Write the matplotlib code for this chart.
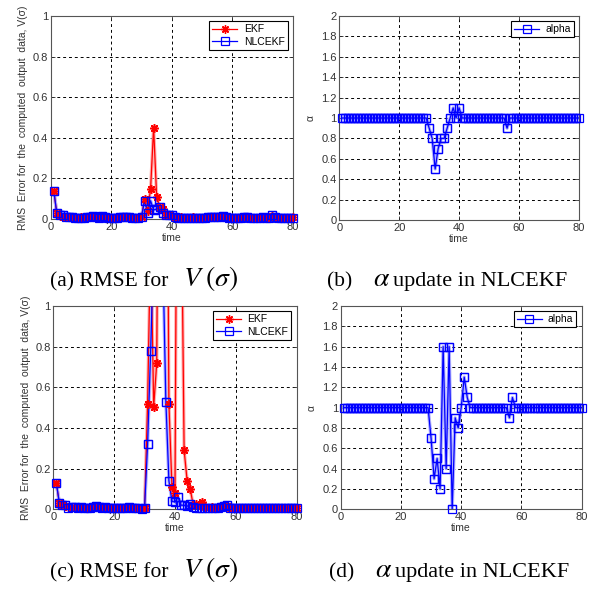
import matplotlib
matplotlib.use("Agg")
import numpy as np
import matplotlib.pyplot as plt

plt.rcParams["font.family"] = ["Liberation Sans", "DejaVu Sans"]
plt.rcParams["mathtext.fontset"] = "stix"

time = np.arange(1, 81)

# RMSE of V(sigma), first run
ekf_a = [
    0.14, 0.03, 0.015, 0.012, 0.010, 0.008, 0.010, 0.006, 0.005, 0.008,
    0.006, 0.010, 0.008, 0.012, 0.010, 0.006, 0.012, 0.008, 0.005, 0.006,
    0.004, 0.008, 0.010, 0.012, 0.008, 0.010, 0.005, 0.004, 0.006, 0.010,
    0.10, 0.04, 0.15, 0.45, 0.11, 0.06, 0.05, 0.02, 0.02, 0.015,
    0.010, 0.006, 0.008, 0.005, 0.006, 0.004, 0.008, 0.005, 0.006, 0.004,
    0.008, 0.010, 0.012, 0.008, 0.010, 0.015, 0.012, 0.006, 0.004, 0.005,
    0.004, 0.006, 0.008, 0.010, 0.008, 0.006, 0.005, 0.004, 0.006, 0.008,
    0.006, 0.010, 0.015, 0.010, 0.008, 0.005, 0.006, 0.004, 0.006, 0.008,
]
nlc_a = [
    0.14, 0.03, 0.02, 0.02, 0.012, 0.010, 0.008, 0.006, 0.005, 0.004,
    0.006, 0.008, 0.010, 0.015, 0.008, 0.006, 0.015, 0.008, 0.004, 0.005,
    0.005, 0.006, 0.010, 0.010, 0.012, 0.008, 0.004, 0.003, 0.005, 0.012,
    0.09, 0.03, 0.09, 0.045, 0.05, 0.06, 0.03, 0.02, 0.02, 0.018,
    0.008, 0.005, 0.005, 0.006, 0.004, 0.005, 0.004, 0.006, 0.005, 0.004,
    0.006, 0.008, 0.012, 0.010, 0.008, 0.012, 0.015, 0.008, 0.004, 0.005,
    0.003, 0.004, 0.006, 0.012, 0.010, 0.006, 0.005, 0.006, 0.005, 0.008,
    0.006, 0.006, 0.018, 0.010, 0.006, 0.005, 0.005, 0.004, 0.005, 0.006,
]
alpha_b = [
    1.0, 1.0, 1.0, 1.0, 1.0, 1.0, 1.0, 1.0, 1.0, 1.0,
    1.0, 1.0, 1.0, 1.0, 1.0, 1.0, 1.0, 1.0, 1.0, 1.0,
    1.0, 1.0, 1.0, 1.0, 1.0, 1.0, 1.0, 1.0, 1.0, 0.9,
    0.8, 0.5, 0.7, 0.8, 0.8, 0.9, 1.0, 1.1, 1.0, 1.1,
    1.0, 1.0, 1.0, 1.0, 1.0, 1.0, 1.0, 1.0, 1.0, 1.0,
    1.0, 1.0, 1.0, 1.0, 1.0, 0.9, 1.0, 1.0, 1.0, 1.0,
    1.0, 1.0, 1.0, 1.0, 1.0, 1.0, 1.0, 1.0, 1.0, 1.0,
    1.0, 1.0, 1.0, 1.0, 1.0, 1.0, 1.0, 1.0, 1.0, 1.0,
]

# second run (larger disturbance)
ekf_c = [
    0.13, 0.03, 0.02, 0.015, 0.010, 0.012, 0.008, 0.010, 0.006, 0.005,
    0.008, 0.006, 0.010, 0.012, 0.008, 0.010, 0.006, 0.008, 0.005, 0.006,
    0.004, 0.006, 0.008, 0.006, 0.010, 0.008, 0.006, 0.005, 0.004, 0.006,
    0.52, 1.35, 0.505, 0.72, 3.0, 3.5, 3.0, 0.52, 0.11, 0.08,
    3.0, 1.7, 0.29, 0.14, 0.10, 0.02, 0.025, 0.02, 0.035, 0.012,
    0.008, 0.010, 0.006, 0.008, 0.012, 0.020, 0.015, 0.008, 0.006, 0.005,
    0.008, 0.006, 0.005, 0.008, 0.006, 0.004, 0.006, 0.008, 0.005, 0.006,
    0.008, 0.006, 0.005, 0.004, 0.006, 0.008, 0.006, 0.005, 0.004, 0.008,
]
nlc_c = [
    0.13, 0.03, 0.02, 0.02, 0.008, 0.010, 0.012, 0.008, 0.010, 0.006,
    0.005, 0.008, 0.010, 0.015, 0.010, 0.008, 0.012, 0.006, 0.005, 0.004,
    0.004, 0.005, 0.006, 0.008, 0.010, 0.006, 0.005, 0.004, 0.003, 0.005,
    0.32, 0.78, 1.3, 1.8, 1.6, 1.25, 0.53, 0.14, 0.04, 0.035,
    0.062, 0.02, 0.02, 0.015, 0.025, 0.010, 0.005, 0.006, 0.008, 0.005,
    0.006, 0.004, 0.008, 0.006, 0.010, 0.015, 0.020, 0.008, 0.005, 0.004,
    0.005, 0.006, 0.004, 0.005, 0.006, 0.004, 0.005, 0.006, 0.005, 0.004,
    0.005, 0.004, 0.006, 0.005, 0.004, 0.006, 0.005, 0.004, 0.006, 0.005,
]
alpha_d = [
    1.0, 1.0, 1.0, 1.0, 1.0, 1.0, 1.0, 1.0, 1.0, 1.0,
    1.0, 1.0, 1.0, 1.0, 1.0, 1.0, 1.0, 1.0, 1.0, 1.0,
    1.0, 1.0, 1.0, 1.0, 1.0, 1.0, 1.0, 1.0, 1.0, 0.7,
    0.3, 0.5, 0.2, 1.6, 0.4, 1.6, 0.0, 0.9, 0.8, 1.0,
    1.3, 1.1, 1.0, 1.0, 1.0, 1.0, 1.0, 1.0, 1.0, 1.0,
    1.0, 1.0, 1.0, 1.0, 1.0, 0.9, 1.1, 1.0, 1.0, 1.0,
    1.0, 1.0, 1.0, 1.0, 1.0, 1.0, 1.0, 1.0, 1.0, 1.0,
    1.0, 1.0, 1.0, 1.0, 1.0, 1.0, 1.0, 1.0, 1.0, 1.0,
]

rms_label = "RMS  Error for  the  computed  output  data, V(σ)"
tick_fs = 8
label_fs = 7.5


def trace(ax, y, ymax, color, light, marker, label):
    y = np.asarray(y)
    if marker == "s":
        mk = dict(marker="s", ms=5.5, mfc="none", mec=color, mew=0.9)
    else:
        mk = dict(marker=(8, 2, 0), ms=6, mec=color, mew=1.0)
    # soft wide stroke under the main line
    ax.plot(time, y, color=light, lw=2.4, zorder=2)
    ax.plot(time, y, color=color, lw=0.9, label=label, zorder=3, **mk)
    # markers sitting on the frame are drawn whole
    inside = y <= ymax
    ax.plot(time[inside], y[inside], ls="none", zorder=4, clip_on=False, **mk)


def style(ax, ymax, ystep):
    ax.set_xlim(0, 80)
    ax.set_ylim(0, ymax)
    ax.set_xticks([0, 20, 40, 60, 80])
    yt = np.round(np.arange(0, ymax + 1e-9, ystep), 1)
    ax.set_yticks(yt)
    ax.set_yticklabels(["%g" % v for v in yt])
    ax.tick_params(direction="in", length=3, width=0.6, labelsize=tick_fs,
                   top=True, right=True, colors="#333333", pad=2)
    ax.grid(True, color="black", linestyle=(0, (3, 3)), linewidth=0.7)
    for s in ax.spines.values():
        s.set_color("#555555")
        s.set_linewidth(0.8)
    ax.set_xlabel("time", fontsize=label_fs, labelpad=1, color="#333333")


def legend(ax):
    leg = ax.legend(loc="upper right", fontsize=label_fs, fancybox=False,
                    edgecolor="black", framealpha=1, handlelength=2.4,
                    borderpad=0.3, labelspacing=0.25, handletextpad=0.6,
                    borderaxespad=0.5)
    leg.get_frame().set_linewidth(0.8)


fig = plt.figure(figsize=(5.94, 5.89), dpi=100)

ax_a = fig.add_axes([0.0854, 0.628, 0.4076, 0.3448])
trace(ax_a, ekf_a, 1, "red", "#ffb0b0", "*", "EKF")
trace(ax_a, nlc_a, 1, "blue", "#b0b0ff", "s", "NLCEKF")
style(ax_a, 1, 0.2)
ax_a.set_ylabel(rms_label, fontsize=label_fs, labelpad=3, color="#333333")
legend(ax_a)

ax_b = fig.add_axes([0.5712, 0.6265, 0.4035, 0.3463])
trace(ax_b, alpha_b, 2, "blue", "#b0b0ff", "s", "alpha")
style(ax_b, 2, 0.2)
ax_b.set_ylabel("α", fontsize=label_fs, labelpad=4, color="#333333")
legend(ax_b)

ax_c = fig.add_axes([0.0897, 0.1353, 0.4098, 0.3452])
trace(ax_c, ekf_c, 1, "red", "#ffb0b0", "*", "EKF")
trace(ax_c, nlc_c, 1, "blue", "#b0b0ff", "s", "NLCEKF")
style(ax_c, 1, 0.2)
ax_c.set_ylabel(rms_label, fontsize=label_fs, labelpad=3, color="#333333")
legend(ax_c)

ax_d = fig.add_axes([0.5736, 0.1353, 0.4057, 0.3452])
trace(ax_d, alpha_d, 2, "blue", "#b0b0ff", "s", "alpha")
style(ax_d, 2, 0.2)
ax_d.set_ylabel("α", fontsize=label_fs, labelpad=4, color="#333333")
legend(ax_d)

# captions under each panel (pixel positions, baseline aligned)
W, H = 594, 589
serif = ["Liberation Serif", "DejaVu Serif"]
cap_fs = 15.5


def caption(x0, y, head, sym, x_sym, tail="", x_tail=0):
    fig.text(x0 / W, 1 - y / H, head, family=serif, fontsize=cap_fs,
             ha="left", va="baseline")
    fig.text(x_sym / W, 1 - y / H, sym, fontsize=20,
             ha="left", va="baseline")
    if tail:
        fig.text(x_tail / W, 1 - y / H, tail, family=serif,
                 fontsize=16, ha="left", va="baseline")


caption(50, 286, "(a) RMSE for", r"$V\;(\sigma)$", 183)
caption(327, 286, "(b)", r"$\alpha$", 373, "update in NLCEKF", 393)
caption(50, 577, "(c) RMSE for", r"$V\;(\sigma)$", 183)
caption(329, 577, "(d)", r"$\alpha$", 375, "update in NLCEKF", 395)

fig.savefig("out.png", dpi=100)
